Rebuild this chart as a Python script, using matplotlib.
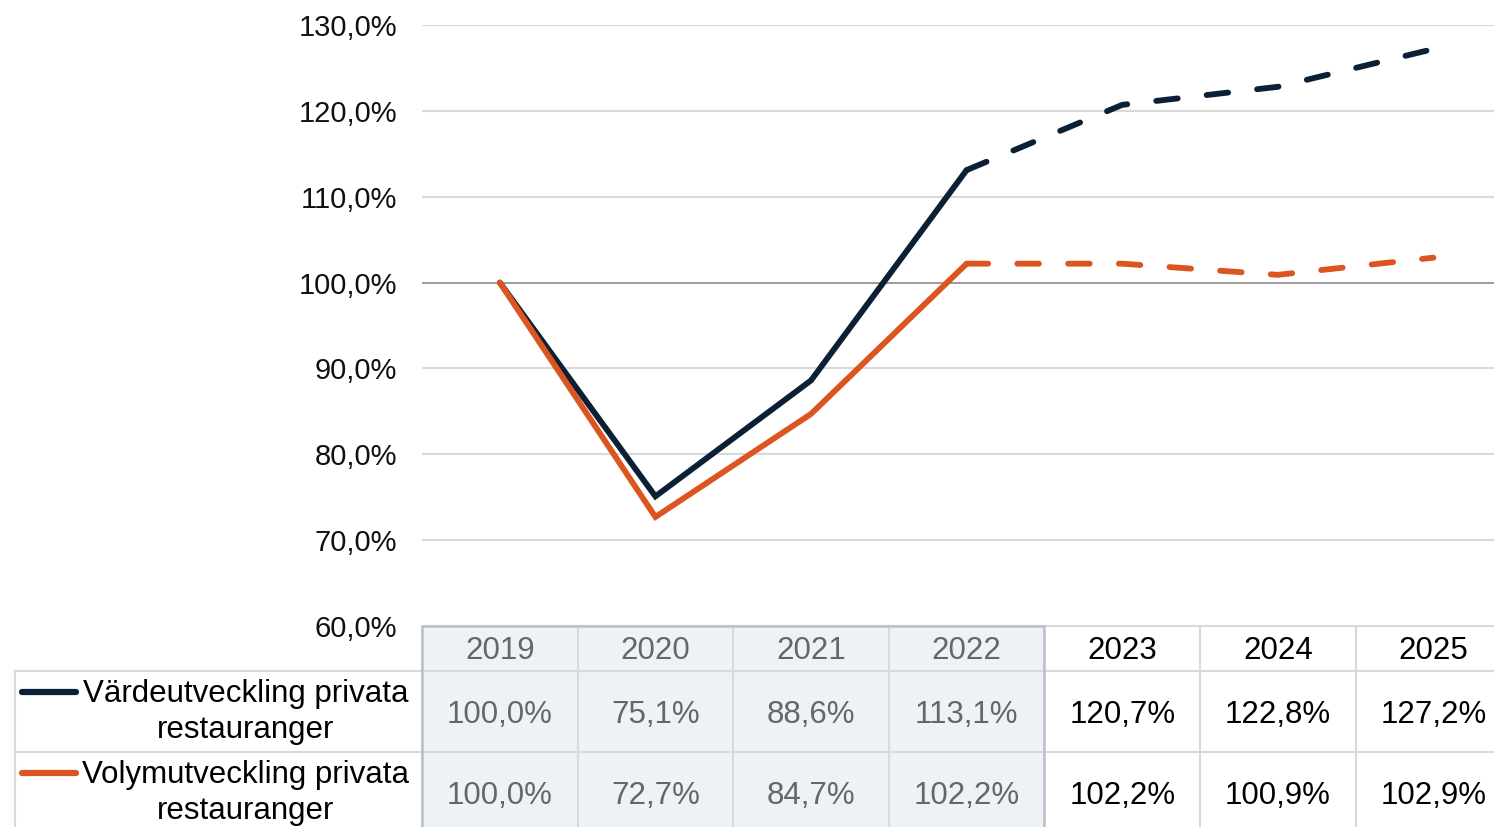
import matplotlib.pyplot as plt
from matplotlib.patches import Rectangle

plt.rcParams['font.family'] = ['Liberation Sans', 'DejaVu Sans']

years = ['2019', '2020', '2021', '2022', '2023', '2024', '2025']
varde = [100.0, 75.1, 88.6, 113.1, 120.7, 122.8, 127.2]
volym = [100.0, 72.7, 84.7, 102.2, 102.2, 100.9, 102.9]
labels = ['Värdeutveckling privata\nrestauranger', 'Volymutveckling privata\nrestauranger']
n_hist = 4  # 2019-2022 utfall, resten prognos

NAVY = '#0b1f35'
ORANGE = '#dc5520'
W, H = 1494, 827
COLW = 155.6


def fmt(v):
    return f"{v:.1f}".replace('.', ',') + '%'


def px(x):
    # pixelposition -> kategori-x
    return (x - 422) / COLW - 0.5


fig = plt.figure(figsize=(W / 100, H / 100), dpi=100)

# --- linjediagram ---
ax = fig.add_axes([422 / W, 201 / H, 7 * COLW / W, 601 / H])
x = list(range(len(years)))
for vals, col in [(varde, NAVY), (volym, ORANGE)]:
    ax.plot(x[:n_hist], vals[:n_hist], color=col, lw=4.2,
            solid_joinstyle='miter', solid_capstyle='round', zorder=3)
    ax.plot(x[n_hist - 1:], vals[n_hist - 1:], color=col, lw=4.2,
            dashes=(3.7, 5.0), dash_capstyle='round', zorder=3)

ax.set_xlim(-0.5, 6.5)
ax.set_ylim(60, 130)
yt = list(range(60, 131, 10))
ax.set_yticks(yt)
ax.set_yticklabels([fmt(v) for v in yt], fontsize=21, color='#111111')
ax.tick_params(axis='y', length=0, pad=18)
ax.set_xticks([])
for v in yt:
    if v == 100:
        ax.axhline(v, color='#8a8a8a', lw=1.2, zorder=1)
    elif v > 60:
        ax.axhline(v, color='#d9d9d9', lw=1.5, zorder=1)
for s in ax.spines.values():
    s.set_visible(False)

# --- datatabell ---
tab = fig.add_axes([422 / W, -6 / H, 7 * COLW / W, 207 / H])
tab.set_xlim(-0.5, 6.5)
tab.set_ylim(207, 0)
tab.axis('off')

rows = [0, 45, 126, 207]
grid = '#d9d9d9'

tab.add_patch(Rectangle((-0.5, 0), n_hist, 210, facecolor='#eef2f7',
                        edgecolor='none', zorder=0, clip_on=False))
for y in rows[:3]:
    tab.plot([-0.5, 6.5], [y, y], color=grid, lw=1.5, clip_on=False, zorder=1)
for i in range(len(years) + 1):
    tab.plot([i - 0.5, i - 0.5], [0, 210], color=grid, lw=1.5, clip_on=False, zorder=1)
tab.add_patch(Rectangle((-0.5, 0), n_hist, 210, facecolor='none',
                        edgecolor='#b9c0c9', lw=1.8, zorder=2, clip_on=False))

# legendkolumn
for y in rows[1:3]:
    tab.plot([px(15), -0.5], [y, y], color=grid, lw=1.5, clip_on=False, zorder=1)
tab.plot([px(15), px(15)], [45, 210], color=grid, lw=1.5, clip_on=False, zorder=1)

for i, yr in enumerate(years):
    c = '#63666a' if i < n_hist else '#000000'
    tab.text(i, 25, yr, ha='center', va='center', fontsize=22.5, color=c)
    for vals, yc in [(varde, 89), (volym, 170)]:
        tab.text(i, yc, fmt(vals[i]), ha='center', va='center', fontsize=22.5, color=c)

for lab, col, yc, ysw in [(labels[0], NAVY, 86, 66), (labels[1], ORANGE, 167, 147)]:
    tab.plot([px(22), px(76)], [ysw, ysw], color=col, lw=4.5,
             solid_capstyle='round', clip_on=False)
    tab.text(px(246), yc, lab, ha='center', va='center', multialignment='center',
             fontsize=22.5, color='#000000', linespacing=1.25, clip_on=False)

fig.savefig('out.png', dpi=100)
